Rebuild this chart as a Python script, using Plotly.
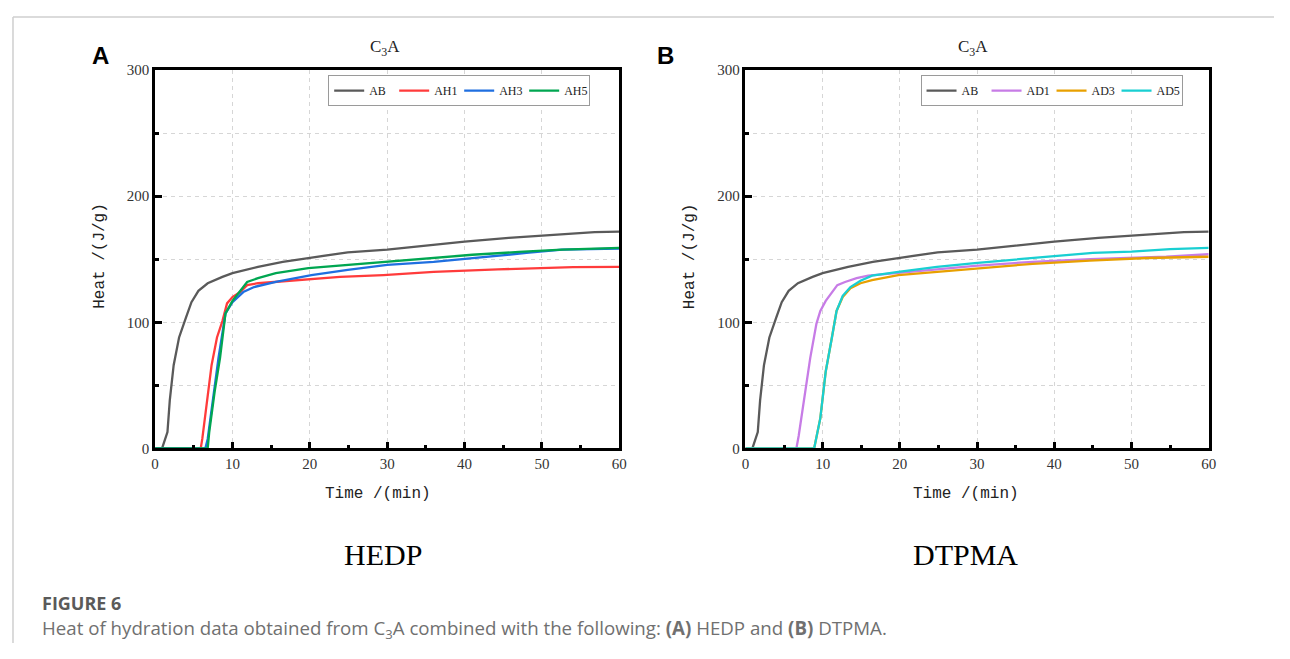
import plotly.graph_objects as go

# figure size (browser body margin of 8px on each side keeps the page inside the window)
W, H = 1290 - 16, 659 - 16
# empirical mapping: reference page pixel = A * figure pixel + B
AX, BX = 0.990, 12.0
AY, BY = 0.972, 16.0

# ---------------- data ----------------
t_AB = [0, 0.9, 1.6, 1.9, 2.4, 3.1, 4.0, 4.7, 5.6, 6.8, 8.7, 10, 13.3, 16.5, 19.8, 24.9, 30, 36, 40, 45.7, 52, 56.8, 60]
h_AB = [0, 0, 13, 38, 66, 88, 104, 116, 125, 131, 136, 139, 144, 148, 151, 155.5, 157.6, 161.7, 164, 167, 169.7, 171.6, 172]

t_AH1 = [0, 5.9, 6.1, 6.6, 7.3, 8.0, 8.7, 9.3, 10, 11, 11.9, 13.3, 15.6, 19.8, 23.9, 29.5, 36, 44.3, 54, 60]
h_AH1 = [0, 0, 7.5, 34, 66, 88, 101, 115, 120, 124, 129.5, 131, 132, 134, 136, 137.5, 140, 142, 143.7, 144]

t_AH3 = [0, 6.5, 6.8, 7.5, 8.2, 9.1, 10, 11.4, 12.8, 15.6, 17.9, 20.2, 24.9, 30, 36, 43.4, 48, 52.6, 60]
h_AH3 = [0, 0, 7.5, 40, 72, 107, 116, 124, 128, 132, 135, 137.5, 141.6, 145.6, 148, 152, 155, 157.6, 158.5]

t_AH5 = [0, 6.8, 7.0, 7.7, 8.4, 9.1, 10, 11, 11.9, 13.3, 15.6, 19.8, 24.9, 30, 36, 41, 47, 52.6, 60]
h_AH5 = [0, 0, 13, 45, 72, 107, 117, 125, 132, 135, 139, 143, 145.6, 148, 151, 153.6, 155.8, 157.6, 159]

t_AD1 = [0, 6.6, 6.9, 7.7, 8.4, 9.2, 9.7, 10.4, 11.2, 11.9, 12.9, 14.4, 15.9, 19.8, 24.8, 29.7, 37.2, 44.6, 54.5, 60]
h_AD1 = [0, 0, 10, 42, 72, 99, 109, 117, 124, 129.5, 132, 135, 137, 139.4, 142, 144.8, 148, 150, 152, 154]

t_AD3 = [0, 8.9, 9.7, 10.4, 11.2, 11.8, 12.6, 13.6, 14.9, 16.4, 19.8, 24.8, 29.7, 37.2, 44.6, 52, 60]
h_AD3 = [0, 0, 24, 61, 88, 109, 120, 127, 131, 133.5, 137.5, 140, 143, 146.4, 149, 151, 152]

t_AD5 = [0, 8.9, 9.7, 10.4, 11.2, 11.8, 12.6, 13.6, 14.9, 16.4, 19.8, 24.8, 29.7, 35, 40, 45, 50, 55, 60]
h_AD5 = [0, 0, 24, 61, 88, 109, 121, 128, 133, 137, 140, 144, 147, 150, 152.5, 155, 156, 158, 159]

names_A = ["AB", "AH1", "AH3", "AH5"]
names_B = ["AB", "AD1", "AD3", "AD5"]
colors_A = ["#5a5a5a", "#ff3b3b", "#1f6fe0", "#00a651"]
colors_B = ["#5a5a5a", "#c77ce6", "#e8a000", "#19cfd2"]
series_A = [(t_AB, h_AB), (t_AH1, h_AH1), (t_AH3, h_AH3), (t_AH5, h_AH5)]
series_B = [(t_AB, h_AB), (t_AD1, h_AD1), (t_AD3, h_AD3), (t_AD5, h_AD5)]

x_ticks = [0, 10, 20, 30, 40, 50, 60]
y_ticks = [0, 100, 200, 300]

# ---------------- helpers ----------------
def px(x):
    return max(0.0, (x - BX) / AX) / W

def py(y):
    return 1 - max(0.0, (y - BY) / AY) / H

fig = go.Figure()

for (t, h), n, c in zip(series_A, names_A, colors_A):
    fig.add_trace(go.Scatter(x=t, y=h, name=n, mode="lines",
                             line=dict(color=c, width=2.3),
                             xaxis="x", yaxis="y", legend="legend"))
for (t, h), n, c in zip(series_B, names_B, colors_B):
    fig.add_trace(go.Scatter(x=t, y=h, name=n, mode="lines",
                             line=dict(color=c, width=2.3),
                             xaxis="x2", yaxis="y2", legend="legend2"))

tickfont = dict(family="Liberation Serif", size=15, color="#333333")
grid_col = "#d6d6d6"

def xaxis_cfg(x0, x1, anchor):
    return dict(domain=[px(x0), px(x1)], anchor=anchor, range=[0, 60],
                tickvals=x_ticks, ticks="inside", ticklen=7, tickwidth=2.5, tickcolor="black",
                minor=dict(dtick=5, tick0=0, ticks="inside", ticklen=4, tickwidth=2.5,
                           tickcolor="black", showgrid=False),
                showline=True, linewidth=2.5, linecolor="black", mirror=True,
                showgrid=True, gridcolor=grid_col, griddash="4px,4px", gridwidth=1,
                zeroline=False, tickfont=tickfont, fixedrange=True)

def yaxis_cfg(anchor):
    return dict(domain=[py(447), py(70)], anchor=anchor, range=[0, 300],
                tickvals=y_ticks, ticks="inside", ticklen=7, tickwidth=2.5, tickcolor="black",
                minor=dict(dtick=50, tick0=0, ticks="inside", ticklen=4, tickwidth=2.5,
                           tickcolor="black", showgrid=True, gridcolor=grid_col,
                           griddash="4px,4px", gridwidth=1),
                showline=True, linewidth=2.5, linecolor="black", mirror=True,
                showgrid=True, gridcolor=grid_col, griddash="4px,4px", gridwidth=1,
                zeroline=False, tickfont=tickfont, fixedrange=True)

legfont = dict(family="Liberation Serif", size=12, color="#222222")

def legend_cfg(x0, y0):
    return dict(orientation="h", x=px(x0), y=py(y0), xanchor="left", yanchor="top",
                bgcolor="white", bordercolor="#9a9a9a", borderwidth=1,
                font=legfont, itemwidth=30, tracegroupgap=0, traceorder="normal",
                entrywidth=20, entrywidthmode="pixels")

annotations = []

def ann(text, x, y, size, family, color="black", xanchor="center", textangle=0):
    annotations.append(dict(text=text, x=px(x), y=py(y), xref="paper", yref="paper",
                            showarrow=False, xanchor=xanchor, yanchor="middle",
                            textangle=textangle,
                            font=dict(size=size, family=family, color=color)))

# panel letters
ann("<b>A</b>", 100, 55, 24, "Liberation Sans")
ann("<b>B</b>", 665, 55, 24, "Liberation Sans")
# subplot titles
ann("C<sub>3</sub>A", 385, 48, 17, "Liberation Serif", color="#222222")
ann("C<sub>3</sub>A", 972, 48, 17, "Liberation Serif", color="#222222")
# axis titles
ann("Heat /(J/g)", 100, 255, 16, "Liberation Mono", color="#222222", textangle=-90)
ann("Heat /(J/g)", 689, 255, 16, "Liberation Mono", color="#222222", textangle=-90)
ann("Time /(min)", 378, 492, 16, "Liberation Mono", color="#222222")
ann("Time /(min)", 965, 492, 16, "Liberation Mono", color="#222222")
# panel captions
ann("HEDP", 383, 553, 30, "Liberation Serif")
ann("DTPMA", 965, 553, 30, "Liberation Serif")
# figure caption
ann("<b>FIGURE 6</b>", 40, 601, 18, "Open Sans", color="#5a5a5a", xanchor="left")
ann("Heat of hydration data obtained from C<sub>3</sub>A combined with the following: "
    "<b>(A)</b> HEDP and <b>(B)</b> DTPMA.", 40, 627, 18.7, "Open Sans", color="#707070",
    xanchor="left")

shapes = [
    dict(type="line", xref="paper", yref="paper", x0=1 / W, x1=1, y0=1 - 1 / H, y1=1 - 1 / H,
         line=dict(color="#cfcfcf", width=1.5)),
    dict(type="line", xref="paper", yref="paper", x0=1 / W, x1=1 / W, y0=1 - 1 / H, y1=0,
         line=dict(color="#cfcfcf", width=1.5)),
]

fig.update_layout(
    width=W, height=H,
    margin=dict(l=0, r=0, t=0, b=0),
    paper_bgcolor="white", plot_bgcolor="white",
    xaxis=xaxis_cfg(155, 619, "y"),
    yaxis=yaxis_cfg("x"),
    xaxis2=xaxis_cfg(745, 1208, "y2"),
    yaxis2=yaxis_cfg("x2"),
    legend=legend_cfg(328, 75),
    legend2=legend_cfg(920, 75),
    annotations=annotations,
    shapes=shapes,
    showlegend=True,
)

fig.write_html("out.html")
